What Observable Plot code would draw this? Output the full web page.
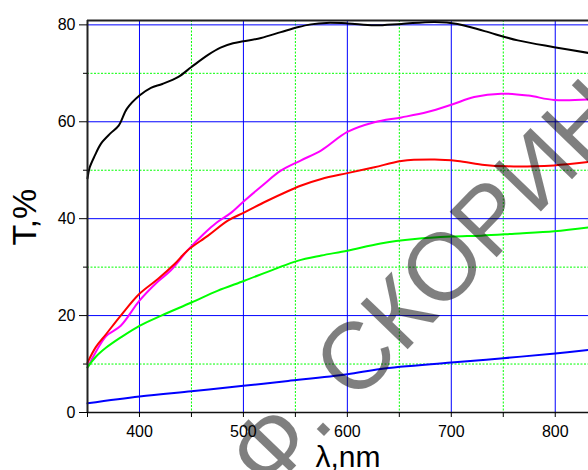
<!DOCTYPE html>
<html>
<head>
<meta charset="utf-8">
<script src="https://cdn.jsdelivr.net/npm/d3@7"></script>
<script src="https://cdn.jsdelivr.net/npm/@observablehq/plot@0.6"></script>
<style>
  html, body { margin: 0; padding: 0; background: #fff; }
  #chart { width: 588px; height: 470px; overflow: hidden; }
</style>
</head>
<body>
<div id="chart"></div>
<script>
// ---- data ----
const blackLambda = [350, 352, 357, 363, 372, 380, 388, 400, 411, 422, 437, 450, 466, 478, 490, 500, 517, 536, 552, 565, 580, 600, 626, 652, 684, 706, 732, 764, 799, 832];
const blackT      = [48.3, 50.5, 53.0, 55.5, 57.6, 59.2, 62.7, 65.4, 67.0, 67.8, 69.2, 71.3, 73.8, 75.3, 76.2, 76.6, 77.3, 78.5, 79.5, 80.1, 80.4, 80.3, 79.9, 80.2, 80.6, 80.2, 78.7, 76.8, 75.4, 74.2];

const magentaLambda = [350, 358, 368, 382, 400, 417, 430, 446, 462, 475, 488, 501, 518, 536, 555, 575, 600, 626, 652, 677, 700, 722, 748, 774, 799, 832];
const magentaT      = [9.3, 12.5, 15.8, 17.9, 23.1, 26.9, 29.3, 33.4, 36.9, 39.3, 41.2, 43.7, 46.8, 49.9, 52.0, 54.1, 57.9, 59.9, 60.9, 62.0, 63.5, 65.1, 65.8, 65.4, 64.5, 64.6];

const redLambda = [350, 358, 368, 382, 400, 418, 434, 446, 466, 485, 501, 523, 555, 575, 600, 626, 652, 684, 706, 732, 754, 780, 799, 832];
const redT      = [10.3, 13.5, 16.2, 20.0, 24.5, 27.6, 30.7, 33.4, 36.5, 39.6, 41.3, 43.7, 46.8, 48.2, 49.4, 50.6, 51.9, 52.2, 51.9, 51.1, 50.8, 50.8, 51.0, 51.7];

const greenLambda = [350, 358, 368, 382, 400, 421, 450, 475, 501, 530, 552, 575, 600, 632, 665, 700, 729, 761, 799, 832];
const greenT      = [9.3, 11.5, 13.4, 15.5, 17.9, 20.0, 22.7, 25.1, 27.2, 29.6, 31.3, 32.4, 33.4, 34.9, 35.8, 36.3, 36.5, 36.9, 37.4, 38.2];

const blueLambda = [350, 400, 450, 500, 543, 600, 632, 700, 750, 800, 832];
const blueT      = [1.9, 3.3, 4.4, 5.5, 6.5, 7.9, 9.0, 10.3, 11.2, 12.2, 12.9];

const xDomain = [350, 832];
const yDomain = [0, 80.9];
const xMajorTicks = [400, 500, 600, 700, 800];
const xMinorTicks = [450, 550, 650, 750];
const xAllTicks = [350, 400, 450, 500, 550, 600, 650, 700, 750, 800];
const yMajorTicks = [0, 20, 40, 60, 80];
const yGridMajor = [20, 40, 60, 80];
const yMinorTicks = [10, 30, 50, 70];

const xTitle = ["λ,nm"];
const yTitle = ["T,%"];
const watermarkText = ["Ф. СКОРИНЫ"];
const watermarkX = [705];
const watermarkY = [32.5];

// ---- build tables ----
const series = [
  {name: "black", color: "#000000", lambda: blackLambda, t: blackT},
  {name: "magenta", color: "#ff00ff", lambda: magentaLambda, t: magentaT},
  {name: "red", color: "#ff0000", lambda: redLambda, t: redT},
  {name: "green", color: "#00ff00", lambda: greenLambda, t: greenT},
  {name: "blue", color: "#0000ff", lambda: blueLambda, t: blueT}
];
const lineMarks = series.map(s => Plot.line(
  s.lambda.map((l, i) => ({lambda: l, t: s.t[i]})),
  {x: "lambda", y: "t", stroke: s.color, strokeWidth: 2, curve: "catmull-rom"}
));
const watermark = watermarkText.map((t, i) => ({text: t, x: watermarkX[i], y: watermarkY[i]}));

const chart = Plot.plot({
  width: 588,
  height: 470,
  marginLeft: 87,
  marginRight: 0,
  marginTop: 20,
  marginBottom: 58,
  style: {fontFamily: "Arial, 'Liberation Sans', sans-serif", fontSize: "16px", color: "#000", background: "#fff", overflow: "visible"},
  x: {domain: xDomain, label: null},
  y: {domain: yDomain, label: null},
  marks: [
    Plot.gridX(xMinorTicks, {stroke: "#00ff00", strokeOpacity: 1, strokeWidth: 1, strokeDasharray: "2,1.5"}),
    Plot.gridY(yMinorTicks, {stroke: "#00ff00", strokeOpacity: 1, strokeWidth: 1, strokeDasharray: "2,1.5"}),
    Plot.gridX(xMajorTicks, {stroke: "#0000ff", strokeOpacity: 1, strokeWidth: 1}),
    Plot.gridY(yGridMajor, {stroke: "#0000ff", strokeOpacity: 1, strokeWidth: 1}),
    ...lineMarks,
    Plot.ruleY([yDomain[1]], {stroke: "#222", strokeWidth: 2}),
    Plot.ruleX([xDomain[0]], {stroke: "#222", strokeWidth: 2}),
    Plot.ruleY([yDomain[0]], {stroke: "#111", strokeWidth: 1.5}),
    Plot.axisX(xAllTicks, {tickSize: 5, tickPadding: 8, fontSize: 16, tickFormat: d => d % 100 === 0 ? String(d) : "", label: null}),
    Plot.axisY(yMajorTicks, {tickSize: 8, tickPadding: 4, fontSize: 16, label: null}),
    Plot.axisY(yMinorTicks, {tickSize: 4, tickFormat: () => "", label: null}),
    Plot.text(yTitle, {frameAnchor: "left", rotate: -90, dx: -62, dy: 29, fontSize: 34, lineAnchor: "middle", fill: "#000"}),
    Plot.text(xTitle, {frameAnchor: "bottom", dx: 10, dy: 54, fontSize: 30, lineAnchor: "bottom", fill: "#000"}),
    Plot.text(watermark, {x: "x", y: "y", text: "text", rotate: -46, fontSize: 95, fill: "#000", fillOpacity: 0.5, lineAnchor: "middle", textAnchor: "middle"})
  ]
});
document.getElementById("chart").appendChild(chart);
</script>
</body>
</html>
